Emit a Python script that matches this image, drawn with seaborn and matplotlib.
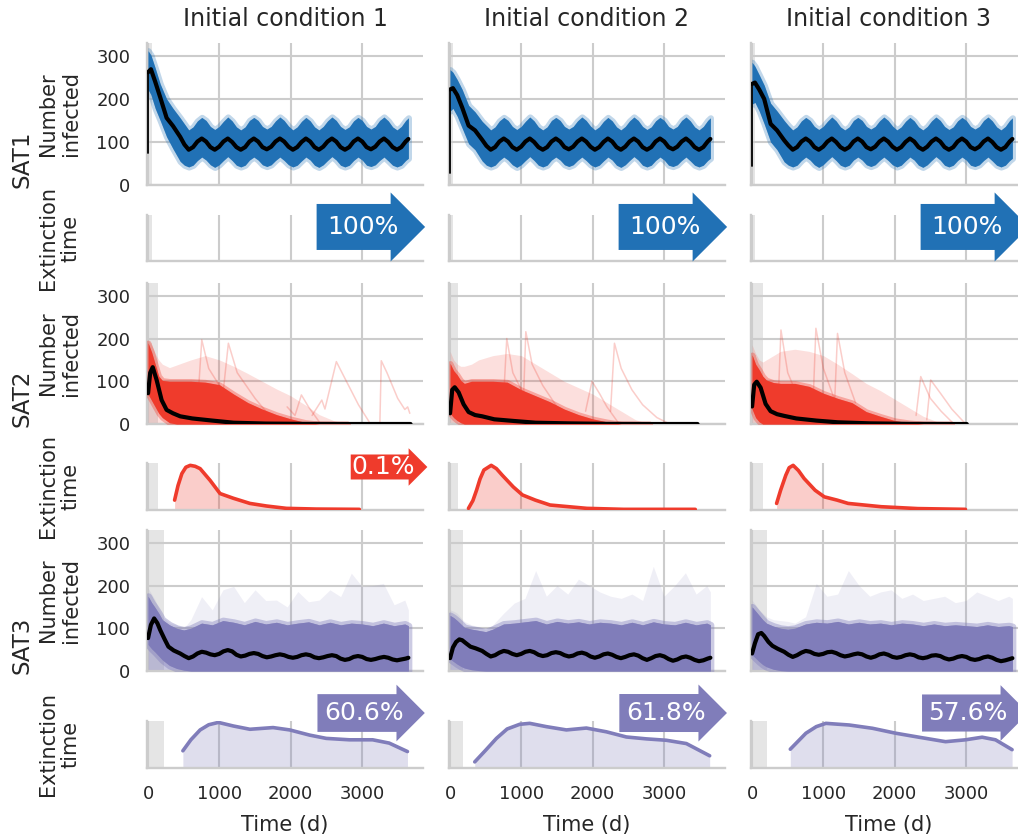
import numpy as np
import matplotlib
matplotlib.use("Agg")
import matplotlib.pyplot as plt
import seaborn as sns

# ------------------------------------------------------------------ data
columns = ["Initial condition 1", "Initial condition 2", "Initial condition 3"]
serotypes = ["SAT1", "SAT2", "SAT3"]
colors = ["#2171b5", "#ef3b2c", "#807dba"]
xticks = [0, 1000, 2000, 3000]
yticks = [0, 100, 200, 300]

# persistence percentage shown in the arrows (None = no arrow)
persist_pct = [[100, 100, 100], [0.1, None, None], [60.6, 61.8, 57.6]]
# shaded burn-in window (days)
burnin = [[55, 45, 45], [135, 115, 155], [225, 185, 210]]

# ---- SAT1 : number infected
sat1_head_t = [0, 40, 100, 170, 260, 350, 450, 510]
sat1_start = [75, 28, 43]
sat1_head_mean = [[262, 269, 240, 204, 156, 137, 112, 94],
                  [222, 225, 209, 180, 138, 127, 105, 91],
                  [235, 238, 222, 200, 142, 127, 104, 92]]
sat1_head_hi = [[312, 302, 272, 235, 200, 178, 156, 142],
                [268, 262, 245, 222, 185, 170, 148, 138],
                [285, 276, 256, 232, 190, 172, 150, 138]]
sat1_head_lo = [[222, 210, 178, 150, 112, 84, 55, 46],
                [172, 178, 160, 132, 96, 82, 56, 46],
                [188, 192, 172, 142, 100, 82, 54, 46]]
tail_t = [570, 631, 692, 753, 813, 874, 935, 996, 1057, 1118, 1178, 1239,
          1300, 1361, 1422, 1483, 1543, 1604, 1665, 1726, 1787, 1848, 1908, 1969,
          2030, 2091, 2152, 2213, 2273, 2334, 2395, 2456, 2517, 2578, 2638, 2699,
          2760, 2821, 2882, 2943, 3003, 3064, 3125, 3186, 3247, 3308, 3368, 3429,
          3490, 3551, 3612, 3650]
sat1_tail_mean = [82, 88, 101, 108, 101, 88, 82, 89, 101, 108, 100, 88,
                  82, 88, 101, 108, 101, 88, 83, 89, 101, 108, 101, 89,
                  82, 88, 100, 108, 101, 88, 82, 89, 101, 108, 101, 88,
                  82, 88, 101, 108, 101, 88, 83, 89, 101, 108, 100, 88,
                  82, 88, 101, 107]
sat1_tail_hi = [128, 135, 149, 157, 150, 136, 129, 136, 148, 158, 149, 135,
                128, 135, 150, 157, 150, 136, 130, 136, 149, 158, 150, 137,
                128, 135, 148, 157, 149, 135, 128, 136, 149, 158, 150, 136,
                129, 135, 149, 157, 150, 136, 130, 136, 150, 158, 149, 135,
                128, 136, 150, 156]
sat1_tail_lo = [42, 46, 57, 65, 58, 47, 41, 47, 57, 66, 57, 46,
                42, 46, 58, 65, 58, 47, 43, 47, 57, 65, 57, 47,
                42, 46, 56, 65, 58, 46, 41, 47, 57, 66, 58, 46,
                42, 46, 57, 65, 58, 46, 43, 47, 57, 65, 56, 46,
                42, 46, 57, 62]

# ---- SAT2 : number infected
sat2_mean_t = [0, 30, 65, 120, 190, 260, 350, 450, 620, 900, 1200, 1650, 2200, 2800, 3400]
sat2_mean = [[72, 120, 133, 103, 56, 33, 25, 18, 13, 8, 3, 1, 0.3, 0, 0],
             [25, 80, 86, 74, 46, 28, 21, 18, 11, 7, 3, 1.5, 0.3, 0, 0],
             [41, 92, 99, 85, 47, 30, 23, 19, 13, 8, 4, 1.5, 0.3, 0, 0]]
sat2_mean_end = [3680, 3470, 3010]
sat2_band_t = [0, 50, 100, 150, 200, 300, 400, 600, 800, 1000, 1200, 1400, 1600,
               1800, 2000, 2200, 2400, 2600, 2800]
sat2_core_hi = [[190, 168, 140, 112, 102, 100, 100, 100, 98, 92, 70, 50, 35, 22, 12, 4, 0, 0, 0],
                [142, 125, 115, 102, 95, 100, 100, 100, 98, 80, 66, 52, 35, 22, 12, 5, 0, 0, 0],
                [162, 140, 127, 112, 103, 97, 95, 95, 88, 72, 60, 50, 29, 18, 8, 3, 0, 0, 0]]
sat2_core_lo = [[70, 55, 40, 25, 15, 3, 0, 0, 0, 0, 0, 0, 0, 0, 0, 0, 0, 0, 0],
                [25, 15, 8, 3, 0, 0, 0, 0, 0, 0, 0, 0, 0, 0, 0, 0, 0, 0, 0],
                [35, 15, 5, 0, 0, 0, 0, 0, 0, 0, 0, 0, 0, 0, 0, 0, 0, 0, 0]]
sat2_light_hi = [[196, 185, 165, 150, 140, 132, 138, 150, 160, 150, 135, 118, 100, 82, 66, 45, 22, 8, 0],
                 [170, 150, 140, 135, 135, 140, 150, 160, 165, 160, 140, 120, 100, 85, 70, 50, 30, 10, 0],
                 [185, 165, 150, 145, 150, 160, 170, 175, 170, 160, 140, 118, 95, 78, 58, 38, 18, 5, 0]]
# a few isolated long-lasting trajectories
sat2_out_t = [[[700, 753, 850, 1000, 1200], [1050, 1126, 1250, 1500, 1700],
               [1950, 2060, 2150, 2250, 2400], [2300, 2436, 2480, 2640, 2750, 2950, 3100],
               [3250, 3270, 3350, 3500, 3600, 3640, 3670]],
              [[750, 795, 880, 1000, 1200], [1030, 1062, 1150, 1300, 1500],
               [1900, 1990, 2100, 2200, 2350], [2250, 2305, 2400, 2550, 2700, 2900, 3080]],
              [[370, 405, 500, 650], [860, 895, 1000, 1150], [1160, 1198, 1300, 1450],
               [2300, 2365, 2500, 2650, 2800], [2450, 2505, 2650, 2800, 2950, 3000]]]
sat2_out_v = [[[60, 197, 130, 90, 50], [70, 189, 120, 60, 20],
               [40, 20, 68, 40, 5], [20, 56, 35, 146, 110, 45, 5],
               [0, 148, 120, 60, 34, 40, 25]],
              [[60, 200, 120, 80, 40], [60, 216, 140, 90, 40],
               [30, 100, 70, 40, 5], [30, 189, 130, 80, 45, 15, 0]],
              [[70, 220, 120, 60], [70, 224, 130, 60], [60, 212, 120, 50],
               [20, 111, 60, 30, 5], [10, 103, 70, 35, 8, 0]]]

# ---- SAT3 : number infected
sat3_head_t = [0, 40, 85, 130, 170, 230, 285, 360, 450, 510]
sat3_head_mean = [[77, 108, 123, 112, 96, 75, 57, 48, 41, 35],
                  [30, 55, 68, 74, 72, 64, 57, 53, 47, 40],
                  [41, 65, 86, 89, 82, 68, 59, 52, 45, 38]]
sat3_tail_mean = [[30, 34, 41, 45, 43, 39, 37, 40, 46, 49, 46, 38,
                   34, 36, 40, 42, 40, 35, 32, 34, 37, 39, 37, 33,
                   31, 33, 37, 39, 37, 32, 30, 32, 35, 37, 35, 29,
                   26, 28, 33, 35, 33, 28, 26, 28, 31, 33, 31, 27,
                   25, 27, 29, 31],
                  [34, 37, 43, 47, 45, 40, 37, 40, 45, 47, 44, 38,
                   35, 37, 42, 44, 42, 37, 34, 36, 41, 43, 40, 34,
                   31, 34, 39, 41, 38, 33, 30, 33, 37, 39, 36, 30,
                   26, 30, 35, 37, 34, 28, 24, 27, 32, 34, 31, 26,
                   23, 25, 29, 31],
                  [33, 37, 43, 47, 45, 40, 38, 40, 44, 45, 42, 37,
                   34, 36, 39, 41, 39, 34, 31, 34, 39, 41, 38, 33,
                   31, 33, 37, 39, 37, 32, 30, 32, 36, 37, 35, 30,
                   27, 29, 33, 35, 33, 28, 26, 28, 32, 34, 31, 26,
                   23, 25, 28, 30]]
sat3_band_t = [0, 50, 100, 150, 200, 300, 400, 500, 600, 750, 900, 1050, 1200, 1350,
               1500, 1650, 1800, 1950, 2100, 2250, 2400, 2550, 2700, 2850, 3000,
               3150, 3300, 3450, 3600, 3650]
sat3_light_hi = [[194, 180, 166, 145, 127, 112, 108, 100, 120, 174, 143, 190, 198, 160,
                  190, 165, 166, 150, 186, 162, 166, 190, 174, 229, 198, 200, 205, 155, 166, 143],
                 [143, 140, 135, 125, 116, 108, 104, 96, 108, 135, 159, 170, 235, 175,
                  200, 180, 215, 200, 185, 175, 170, 180, 165, 245, 175, 200, 230, 180, 200, 185],
                 [166, 155, 143, 135, 127, 120, 118, 116, 112, 127, 205, 175, 180, 235,
                  200, 175, 185, 190, 170, 180, 165, 170, 175, 160, 165, 185, 175, 165, 175, 170]]
sat3_core_hi = [[175, 160, 148, 135, 120, 108, 100, 96, 100, 112, 108, 118, 114, 108,
                 116, 110, 114, 108, 112, 115, 108, 114, 108, 112, 110, 106, 112, 106, 110, 106],
                [130, 125, 118, 110, 102, 98, 95, 92, 98, 110, 112, 115, 118, 110,
                 116, 112, 115, 110, 114, 112, 108, 114, 108, 115, 110, 108, 114, 108, 112, 108],
                [150, 140, 130, 120, 112, 105, 100, 98, 100, 110, 114, 112, 116, 110,
                 114, 110, 112, 108, 112, 110, 106, 110, 106, 108, 106, 104, 108, 104, 106, 104]]
sat3_core_lo = [[62, 52, 44, 35, 26, 13, 6, 2, 0, 0, 0, 0, 0, 0, 0,
                 0, 0, 0, 0, 0, 0, 0, 0, 0, 0, 0, 0, 0, 0, 0],
                [28, 22, 16, 11, 7, 3, 1, 0, 0, 0, 0, 0, 0, 0, 0,
                 0, 0, 0, 0, 0, 0, 0, 0, 0, 0, 0, 0, 0, 0, 0],
                [38, 30, 22, 15, 10, 4, 1, 0, 0, 0, 0, 0, 0, 0, 0,
                 0, 0, 0, 0, 0, 0, 0, 0, 0, 0, 0, 0, 0, 0, 0]]

# ---- extinction-time densities (relative height)
sat2_ext_t = [[372, 420, 474, 530, 591, 660, 730, 870, 1009, 1195, 1428, 1660, 1940, 2358, 2963],
              [258, 320, 371, 420, 474, 577, 650, 732, 887, 1015, 1196, 1402, 1918, 2433, 3438],
              [344, 400, 473, 520, 576, 650, 730, 884, 1013, 1193, 1347, 1810, 2324, 2992]]
sat2_ext_d = [[0.21, 0.52, 0.775, 0.91, 0.95, 0.93, 0.88, 0.63, 0.35, 0.25, 0.14, 0.085, 0.035, 0.02, 0.014],
              [0.035, 0.2, 0.42, 0.66, 0.85, 0.95, 0.88, 0.74, 0.49, 0.32, 0.21, 0.106, 0.035, 0.014, 0.014],
              [0.14, 0.42, 0.74, 0.9, 0.95, 0.84, 0.67, 0.42, 0.28, 0.21, 0.14, 0.07, 0.03, 0.014]]
sat3_ext_t = [[488, 600, 730, 850, 986, 1195, 1428, 1753, 1986, 2265, 2498, 2823, 3149, 3381, 3637],
              [346, 500, 650, 800, 977, 1117, 1350, 1631, 1911, 2192, 2472, 2750, 3033, 3313, 3640],
              [536, 755, 900, 1035, 1361, 1688, 2014, 2340, 2713, 2993, 3226, 3413, 3646]]
sat3_ext_d = [[0.366, 0.6, 0.81, 0.92, 0.97, 0.894, 0.824, 0.86, 0.81, 0.70, 0.63, 0.60, 0.60, 0.53, 0.35],
              [0.13, 0.38, 0.63, 0.83, 0.93, 0.95, 0.88, 0.81, 0.85, 0.77, 0.66, 0.62, 0.59, 0.52, 0.26],
              [0.40, 0.74, 0.88, 0.95, 0.915, 0.845, 0.74, 0.655, 0.56, 0.60, 0.655, 0.60, 0.39]]

# ------------------------------------------------------------------ style
sns.set_theme(style="whitegrid")
TEXT = "#262626"
plt.rcParams.update({
    "font.family": ["DejaVu Sans"],
    "axes.edgecolor": "#cccccc",
    "grid.color": "#cccccc",
    "grid.linewidth": 1.5,
    "axes.linewidth": 1.7,
    "axes.axisbelow": True,
    "text.color": TEXT,
})

W, H = 1018, 839
fig = plt.figure(figsize=(W / 100, H / 100), dpi=100)
COL_LEFT = [147, 449, 751]
AX_W = 276
ROWS = [(43, 185), (215, 261), (283, 424), (463, 510), (530, 671), (721, 768)]
XLIM = (-15, 3855)
GRAY = "#e5e5e5"
ARROW_X = [0.913, 0.97, 0.931]
ARROW_Y = [0.74, 0.915, 1.17]


def make_ax(r, c):
    top, bot = ROWS[r]
    ax = fig.add_axes([COL_LEFT[c] / W, 1 - bot / H, AX_W / W, (bot - top) / H])
    ax.set_xlim(*XLIM)
    ax.set_xticks(xticks)
    ax.tick_params(length=0, pad=12, labelsize=13, colors=TEXT)
    ax.tick_params(axis="x", labelbottom=(r == 5))
    for s in ("top", "right"):
        ax.spines[s].set_visible(False)
    return ax


def line(ax, x, y, color="black", lw=3.0, alpha=1.0, z=5):
    sns.lineplot(x=x, y=y, ax=ax, color=color, linewidth=lw, alpha=alpha,
                 sort=False, estimator=None, legend=False, zorder=z)


for s in range(3):
    col = colors[s]
    for c in range(3):
        # ------------- number infected
        ax = make_ax(2 * s, c)
        ax.set_ylim(0, 330)
        ax.set_yticks(yticks)
        ax.tick_params(axis="y", labelleft=(c == 0))
        ax.axvspan(XLIM[0], burnin[s][c], color=GRAY, lw=0, zorder=0)
        if s == 0:
            t = np.concatenate([sat1_head_t, tail_t])
            hi = np.concatenate([sat1_head_hi[c], sat1_tail_hi])
            lo = np.concatenate([sat1_head_lo[c], sat1_tail_lo])
            mean = np.concatenate([sat1_head_mean[c], sat1_tail_mean])
            ax.fill_between(t, lo, hi, color=col, alpha=0.28, lw=4.5, edgecolor=col, zorder=2)
            ax.fill_between(t, lo, hi, color=col, lw=0, zorder=3)
            line(ax, [0, 0], [sat1_start[c], sat1_head_mean[c][0]], lw=1.3)
            line(ax, t, mean)
        elif s == 1:
            bt = sat2_band_t
            ax.fill_between(bt, 0, sat2_light_hi[c], color=col, alpha=0.16, lw=0, zorder=2)
            for ot, ov in zip(sat2_out_t[c], sat2_out_v[c]):
                line(ax, ot, ov, color=col, lw=1.1, alpha=0.25, z=2.5)
            ax.fill_between(bt, sat2_core_lo[c], sat2_core_hi[c], color=col, alpha=0.35,
                            lw=4, edgecolor=col, zorder=3)
            ax.fill_between(bt, sat2_core_lo[c], sat2_core_hi[c], color=col, lw=0, zorder=3)
            mt = [v for v in sat2_mean_t if v < sat2_mean_end[c]] + [sat2_mean_end[c]]
            mv = list(sat2_mean[c][:len(mt) - 1]) + [0]
            line(ax, mt, mv)
        else:
            bt = sat3_band_t
            ax.fill_between(bt, 0, sat3_light_hi[c], color=col, alpha=0.12, lw=0, zorder=2)
            ax.fill_between(bt, 0, sat3_core_hi[c], color=col, alpha=0.35, lw=0, zorder=2)
            ax.fill_between(bt, sat3_core_lo[c], sat3_core_hi[c], color=col, alpha=0.4,
                            lw=5, edgecolor=col, zorder=3)
            ax.fill_between(bt, sat3_core_lo[c], sat3_core_hi[c], color=col, lw=0, zorder=3)
            t = np.concatenate([sat3_head_t, tail_t])
            mean = np.concatenate([sat3_head_mean[c], sat3_tail_mean[c]])
            line(ax, t, mean)

        # ------------- extinction time
        ax = make_ax(2 * s + 1, c)
        ax.set_ylim(0, 1)
        ax.set_yticks([])
        ax.axvspan(XLIM[0], burnin[s][c], color=GRAY, lw=0, zorder=0)
        if s == 1:
            et, ed = sat2_ext_t[c], sat2_ext_d[c]
        elif s == 2:
            et, ed = sat3_ext_t[c], sat3_ext_d[c]
        else:
            et = ed = None
        if et is not None:
            ax.fill_between(et, 0, ed, color=col, alpha=0.25, lw=0, zorder=2)
            line(ax, et, ed, color=col, lw=2.6, z=4)
        pct = persist_pct[s][c]
        if pct is not None:
            pad = 0.02 + 0.42 * pct / 100
            ax.text(ARROW_X[s], ARROW_Y[s], f"{pct:g}%", transform=ax.transAxes,
                    ha="right", va="center", fontsize=18, color="white", zorder=10,
                    clip_on=False,
                    bbox=dict(boxstyle=f"rarrow,pad={pad:.3f}", fc=col, ec="none"))

# ------------------------------------------------------------------ labels
for c in range(3):
    xc = (COL_LEFT[c] + AX_W / 2) / W
    fig.text(xc, 1 - 19 / H, columns[c], ha="center", va="center", fontsize=17, color=TEXT)
    fig.text(xc, 1 - 825 / H, "Time (d)", ha="center", va="center", fontsize=15, color=TEXT)

sat_y = [159, 398, 645]
for s in range(3):
    fig.text(21.7 / W, 1 - sat_y[s] / H, serotypes[s], rotation=90, ha="center",
             va="center", fontsize=16.5, color=TEXT)
    for k, lab in enumerate(["Number\ninfected", "Extinction\ntime"]):
        top, bot = ROWS[2 * s + k]
        fig.text(59.5 / W, 1 - (top + bot) / 2 / H, lab, rotation=90, ha="center",
                 va="center", multialignment="center", fontsize=15, color=TEXT,
                 linespacing=1.15)

fig.savefig("out.png", dpi=100)
